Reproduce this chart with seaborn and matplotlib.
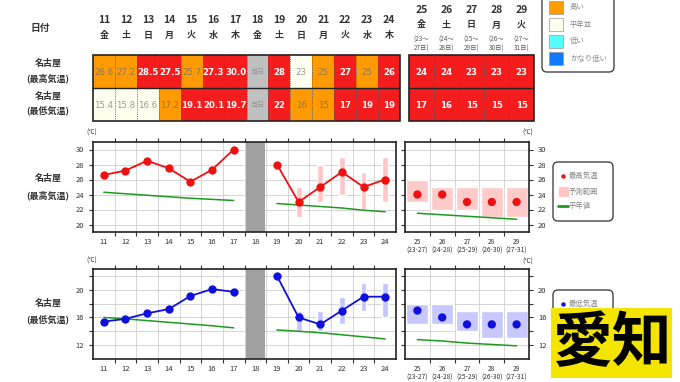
import numpy as np
import pandas as pd
import seaborn as sns
import matplotlib
matplotlib.use("Agg")
import matplotlib.pyplot as plt
from matplotlib.colors import ListedColormap
from matplotlib.patches import FancyBboxPatch, Rectangle
from matplotlib.transforms import blended_transform_factory

W, H = 680, 382

# ---- data ----
days = list(range(11, 25))
weekdays = ['金', '土', '日', '月', '火', '水', '木', '金', '土', '日', '月', '火', '水', '木']
week_days = [25, 26, 27, 28, 29]
week_wd = ['金', '土', '日', '月', '火']
week_span = ['(23～\n27日)', '(24～\n28日)', '(25～\n29日)', '(26～\n30日)', '(27～\n31日)']
week_span_short = ['(23-27)', '(24-28)', '(25-29)', '(26-30)', '(27-31)']

max_text = ['26.6', '27.2', '28.5', '27.5', '25.7', '27.3', '30.0', '当日', '28', '23', '25', '27', '25', '26']
min_text = ['15.4', '15.8', '16.6', '17.2', '19.1', '20.1', '19.7', '当日', '22', '16', '15', '17', '19', '19']
max_class = ['高い', '高い', 'かなり高い', 'かなり高い', '高い', 'かなり高い', 'かなり高い', '当日',
             'かなり高い', '平年並', '高い', 'かなり高い', '高い', 'かなり高い']
min_class = ['平年並', '平年並', '平年並', '高い', 'かなり高い', 'かなり高い', 'かなり高い', '当日',
             'かなり高い', '高い', '高い', 'かなり高い', 'かなり高い', 'かなり高い']
week_max = [24, 24, 23, 23, 23]
week_min = [17, 16, 15, 15, 15]
week_max_class = ['かなり高い'] * 5
week_min_class = ['かなり高い'] * 5

past_days = [11, 12, 13, 14, 15, 16, 17]
obs_max = [26.6, 27.2, 28.5, 27.5, 25.7, 27.3, 30.0]
obs_min = [15.4, 15.8, 16.6, 17.2, 19.1, 20.1, 19.7]
norm_max_past = [24.3, 24.1, 23.9, 23.7, 23.5, 23.35, 23.2]
norm_min_past = [16.0, 15.8, 15.55, 15.3, 15.05, 14.8, 14.5]

fc_days = [19, 20, 21, 22, 23, 24]
fc_max = [28, 23, 25, 27, 25, 26]
fc_min = [22, 16, 15, 17, 19, 19]
norm_max_fc = [22.8, 22.6, 22.4, 22.2, 21.9, 21.7]
norm_min_fc = [14.2, 14.0, 13.8, 13.5, 13.2, 12.9]

rng_days = [20, 21, 22, 23, 24]
fc_max_lo = [21, 23, 24, 22, 23]
fc_max_hi = [25, 28, 29, 27, 29]
fc_min_lo = [14, 14, 15, 17, 16]
fc_min_hi = [17, 17, 19, 21, 21]

week_max_lo = [23, 22, 22, 21, 21]
week_max_hi = [26, 25, 25, 25, 25]
week_min_lo = [15, 15, 14, 13, 13]
week_min_hi = [18, 18, 17, 17, 17]
week_norm_max = [21.5, 21.3, 21.1, 20.9, 20.7]
week_norm_min = [12.8, 12.6, 12.3, 12.1, 11.9]

# classes visible in the (top-cropped) legend
legend_classes = ['高い', '平年並', '低い', 'かなり低い']

cls_colors = {'かなり高い': '#f41c1c', '高い': '#ff9a00', '平年並': '#fffff0',
              '低い': '#55ffff', 'かなり低い': '#0f79ff', '当日': '#c0c0c0'}
cls_text = {'かなり高い': 'white', '高い': '#8f7550', '平年並': '#999999', '当日': '#8f8f8f'}

sns.set_theme(style="white")
plt.rcParams['font.family'] = ['Noto Sans CJK JP', 'DejaVu Sans']

fig = plt.figure(figsize=(W / 100, H / 100), dpi=100)


def px(x0, y0, x1, y1):
    return [x0 / W, 1 - y1 / H, (x1 - x0) / W, (y1 - y0) / H]


def fy(y):
    return 1 - y / H


DARK = '#333333'


# ---- tables ----
def draw_table(ax, texts_rows, class_rows):
    order = list(cls_colors.keys())
    codes = pd.DataFrame([[order.index(c) for c in row] for row in class_rows])
    cmap = ListedColormap([cls_colors[c] for c in order])
    sns.heatmap(codes, ax=ax, cmap=cmap, vmin=-0.5, vmax=len(order) - 0.5, cbar=False,
                xticklabels=False, yticklabels=False)
    ncol = codes.shape[1]
    for r, (trow, crow) in enumerate(zip(texts_rows, class_rows)):
        for i, (t, c) in enumerate(zip(trow, crow)):
            red = c == 'かなり高い'
            ax.text(i + 0.5, r + 0.52, t, ha='center', va='center',
                    fontsize=6.2 if t != '当日' else 5, color=cls_text[c],
                    weight='bold' if red else 'normal', family='DejaVu Sans' if t != '当日' else None)
    for i in range(1, ncol):
        ax.plot([i, i], [0, 2], color='#555555', lw=0.6, ls=(0, (1, 1.2)))
    ax.plot([0, ncol], [1, 1], color='#222222', lw=1)
    ax.add_patch(Rectangle((0, 0), ncol, 2, fill=False, ec='#222222', lw=1.2, clip_on=False))
    ax.set_xlabel('')
    ax.set_ylabel('')


ax_t1 = fig.add_axes(px(93, 55, 400, 121))
draw_table(ax_t1, [max_text, min_text], [max_class, min_class])
tr1 = blended_transform_factory(ax_t1.transData, fig.transFigure)
for i, (d, w) in enumerate(zip(days, weekdays)):
    ax_t1.text(i + 0.5, fy(20), str(d), transform=tr1, ha='center', va='center',
               fontsize=7.5, color=DARK, weight='bold')
    ax_t1.text(i + 0.5, fy(35.5), w, transform=tr1, ha='center', va='center',
               fontsize=6.5, color=DARK, weight='bold')

ax_t2 = fig.add_axes(px(409, 55, 534, 121))
draw_table(ax_t2, [[str(v) for v in week_max], [str(v) for v in week_min]],
           [week_max_class, week_min_class])
tr2 = blended_transform_factory(ax_t2.transData, fig.transFigure)
for i, (d, w, s) in enumerate(zip(week_days, week_wd, week_span)):
    ax_t2.text(i + 0.5, fy(10), str(d), transform=tr2, ha='center', va='center',
               fontsize=7.5, color=DARK, weight='bold')
    ax_t2.text(i + 0.5, fy(25), w, transform=tr2, ha='center', va='center',
               fontsize=6.5, color=DARK, weight='bold')
    ax_t2.text(i + 0.5, fy(44), s, transform=tr2, ha='center', va='center',
               fontsize=4.6, color='#555555', linespacing=1.25)

fig.text(40 / W, fy(28), '日付', ha='center', va='center', fontsize=7, color=DARK, weight='bold')
fig.text(48 / W, fy(71), '名古屋\n(最高気温)', ha='center', va='center', fontsize=6.5,
         color=DARK, weight='bold', linespacing=1.7)
fig.text(48 / W, fy(104), '名古屋\n(最低気温)', ha='center', va='center', fontsize=6.5,
         color=DARK, weight='bold', linespacing=1.7)


# ---- charts ----
def style_axes(ax, xs, ylim, yticks, ylabels, right=False):
    ax.set_xlim(xs[0] - 0.5, xs[-1] + 0.5)
    ax.set_ylim(*ylim)
    ax.set_xticks(xs)
    ax.set_xticks([x + 0.5 for x in xs[:-1]], minor=True)
    ax.set_yticks(yticks)
    ax.set_yticklabels(ylabels)
    ax.grid(which='minor', axis='x', color='#cfcfcf', lw=0.6)
    ax.grid(which='major', axis='y', color='#cfcfcf', lw=0.6)
    ax.grid(which='major', axis='x', visible=False)
    ax.tick_params(axis='x', which='major', length=0, labelsize=5.5, labelcolor=DARK, pad=4)
    ax.tick_params(axis='x', which='minor', length=3, width=0.8, color=DARK, top=True, bottom=True,
                   direction='out')
    ax.tick_params(axis='y', which='major', length=3, width=0.8, color=DARK, labelsize=5.5,
                   labelcolor=DARK, left=True, right=right, labelleft=not right, labelright=right,
                   direction='out')
    for s in ax.spines.values():
        s.set_color('#222222')
        s.set_linewidth(1.2)
    ax.set_xlabel('')
    ax.set_ylabel('')


def draw_daily(ax, obs, norm_past, fc, norm_fc, lo, hi, color, band):
    ax.axvspan(17.55, 18.45, color='#a0a0a0', zorder=1, lw=0)
    ax.bar(rng_days, np.array(hi) - np.array(lo), bottom=lo, width=0.27, color=band, zorder=2)
    sns.lineplot(x=past_days, y=norm_past, ax=ax, color='#1e9a1e', lw=1.1, zorder=3)
    sns.lineplot(x=fc_days, y=norm_fc, ax=ax, color='#1e9a1e', lw=1.1, zorder=3)
    sns.lineplot(x=past_days, y=obs, ax=ax, color=color, lw=1.3, marker='o', markersize=6,
                 markeredgewidth=0, zorder=4)
    sns.lineplot(x=fc_days, y=fc, ax=ax, color=color, lw=1.3, marker='o', markersize=6,
                 markeredgewidth=0, zorder=4)


def draw_weekly(ax, vals, norm, lo, hi, color, band):
    ax.bar(week_days, np.array(hi) - np.array(lo), bottom=lo, width=0.88, color=band, zorder=2)
    sns.lineplot(x=week_days, y=norm, ax=ax, color='#1e9a1e', lw=1.1, zorder=3)
    sns.scatterplot(x=week_days, y=vals, ax=ax, color=color, s=36, edgecolor='none', zorder=4)


hi_ticks = list(range(20, 31, 2))
lo_ticks = list(range(12, 23, 2))
lo_labels = [str(t) if t in (12, 16, 20) else '' for t in lo_ticks]

ax_u1 = fig.add_axes(px(93, 142, 396, 232))
draw_daily(ax_u1, obs_max, norm_max_past, fc_max, norm_max_fc, fc_max_lo, fc_max_hi, '#ee1111', '#ffc6c6')
style_axes(ax_u1, days, (19, 31), hi_ticks, [str(t) for t in hi_ticks])

ax_u2 = fig.add_axes(px(405, 142, 529, 232))
draw_weekly(ax_u2, week_max, week_norm_max, week_max_lo, week_max_hi, '#ee1111', '#ffcaca')
style_axes(ax_u2, week_days, (19, 31), hi_ticks, [str(t) for t in hi_ticks], right=True)
ax_u2.tick_params(axis='y', left=True)
ax_u2.set_xticklabels([f'{d}\n{s}' for d, s in zip(week_days, week_span_short)], fontsize=4.8,
                      linespacing=1.2)

ax_l1 = fig.add_axes(px(93, 269, 396, 359))
draw_daily(ax_l1, obs_min, norm_min_past, fc_min, norm_min_fc, fc_min_lo, fc_min_hi, '#1010dd', '#c4c4ff')
style_axes(ax_l1, days, (10, 23), lo_ticks, lo_labels)

ax_l2 = fig.add_axes(px(405, 269, 529, 359))
draw_weekly(ax_l2, week_min, week_norm_min, week_min_lo, week_min_hi, '#1010dd', '#c8c8ff')
style_axes(ax_l2, week_days, (10, 23), lo_ticks, lo_labels, right=True)
ax_l2.tick_params(axis='y', left=True)
ax_l2.set_xticklabels([f'{d}\n{s}' for d, s in zip(week_days, week_span_short)], fontsize=4.8,
                      linespacing=1.2)

for x, y in [(92, 133), (528, 133), (92, 261), (528, 262)]:
    fig.text(x / W, fy(y), '(℃)', ha='center', va='center', fontsize=4.5, color=DARK)

fig.text(48 / W, fy(187), '名古屋\n(最高気温)', ha='center', va='center', fontsize=6.5,
         color=DARK, weight='bold', linespacing=1.9)
fig.text(48 / W, fy(312), '名古屋\n(最低気温)', ha='center', va='center', fontsize=6.5,
         color=DARK, weight='bold', linespacing=1.9)

# ---- overlay: legends and label ----
ax_o = fig.add_axes([0, 0, 1, 1], zorder=10)
ax_o.set_xlim(0, W)
ax_o.set_ylim(H, 0)
ax_o.axis('off')
ax_o.patch.set_alpha(0)

ax_o.add_patch(FancyBboxPatch((542, -20), 72, 92, boxstyle='round,pad=0,rounding_size=5',
                              fc='white', ec='#444444', lw=1))
for k, c in enumerate(legend_classes):
    yc = 7.5 + 17 * k
    ax_o.add_patch(Rectangle((549, yc - 6.5), 14, 13, fc=cls_colors[c], ec='#999999', lw=0.5))
    ax_o.text(570, yc, c, ha='left', va='center', fontsize=5.3, color='#888888')


def chart_legend(y0, color, band, label, full=True):
    ax_o.add_patch(FancyBboxPatch((553, y0), 60, 59, boxstyle='round,pad=0,rounding_size=5',
                                  fc='white', ec='#444444', lw=1))
    ax_o.plot([563], [y0 + 13.5], 'o', color=color, markersize=3.2, markeredgewidth=0)
    ax_o.text(569, y0 + 13.5, label, ha='left', va='center', fontsize=5.3, color='#888888')
    if full:
        ax_o.add_patch(Rectangle((559, y0 + 25), 10, 10, fc=band, ec='none'))
        ax_o.text(569, y0 + 30, '予測範囲', ha='left', va='center', fontsize=5.3, color='#888888')
        ax_o.plot([558, 568], [y0 + 44, y0 + 44], color='#1e9a1e', lw=2)
        ax_o.text(569, y0 + 44, '平年値', ha='left', va='center', fontsize=5.3, color='#888888')


chart_legend(162, '#ee1111', '#ffc6c6', '最高気温')
# lower legend is mostly hidden behind the prefecture label
chart_legend(290, '#1010dd', '#c4c4ff', '最低気温', full=False)

ax_o.add_patch(Rectangle((551, 308), 121, 70, fc='#f3e500', ec='none'))
ax_o.text(611.5, 344, '愛知', ha='center', va='center', fontsize=43, color='black', weight='bold')

fig.savefig('out.png', dpi=100)
